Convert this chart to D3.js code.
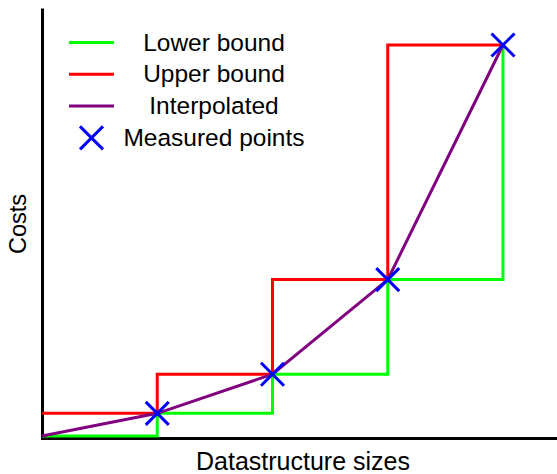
<!DOCTYPE html>
<html>
<head>
<meta charset="utf-8">
<script src="https://cdn.jsdelivr.net/npm/d3@7"></script>
<style>
  html, body { margin: 0; padding: 0; background: #fff; }
  svg { display: block; font-family: "Liberation Sans", Arial, Helvetica, sans-serif; }
</style>
</head>
<body>
<svg id="chart" width="557" height="474"></svg>
<script>
// Measured structure sizes (index) and their costs
const sizes = [0, 1, 2, 3, 4];
const costs = [0, 1.45, 3.95, 10, 25];
const measuredIdx = [1, 2, 3, 4];
const legendLabels = ["Lower bound", "Upper bound", "Interpolated", "Measured points"];
const xLabel = "Datastructure sizes";
const yLabel = "Costs";

const svg = d3.select("#chart");
const W = 557, H = 474;

const x = d3.scaleLinear().domain([0, 4]).range([42, 503]);
const y = d3.scaleLinear().domain([0, 25]).range([436, 45]);

const pts = sizes.map((s, i) => ({ s, c: costs[i] }));

// Axes: plain spines, no ticks
const xAxisScale = d3.scaleLinear().domain([0, 1]).range([40.5, W]);
const yAxisScale = d3.scaleLinear().domain([0, 1]).range([439.5, 8]);
svg.append("g")
  .attr("transform", "translate(0,438)")
  .call(d3.axisBottom(xAxisScale).tickValues([]).tickSizeOuter(0))
  .select(".domain").attr("stroke", "#000").attr("stroke-width", 3);
svg.append("g")
  .attr("transform", "translate(42,0)")
  .call(d3.axisLeft(yAxisScale).tickValues([]).tickSizeOuter(0))
  .select(".domain").attr("stroke", "#000").attr("stroke-width", 3);

const lower = d3.line().x(d => x(d.s)).y(d => y(d.c)).curve(d3.curveStepAfter);
const upper = d3.line().x(d => x(d.s)).y(d => y(d.c)).curve(d3.curveStepBefore);
const interp = d3.line().x(d => x(d.s)).y(d => y(d.c)).curve(d3.curveLinear);

// Upper bound starts at the first measured level
const upperPts = [{ s: sizes[0], c: costs[1] }].concat(pts.slice(1));

svg.append("path").attr("d", lower(pts))
  .attr("fill", "none").attr("stroke", "#00ff00").attr("stroke-width", 3);
svg.append("path").attr("d", upper(upperPts))
  .attr("fill", "none").attr("stroke", "#ff0000").attr("stroke-width", 3);
svg.append("path").attr("d", interp(pts))
  .attr("fill", "none").attr("stroke", "#800080").attr("stroke-width", 3);

// Measured points as crosses
const arm = 11.5;
const crossPath = `M${-arm},${-arm}L${arm},${arm}M${-arm},${arm}L${arm},${-arm}`;
svg.append("g").selectAll("path")
  .data(measuredIdx.map(i => pts[i]))
  .join("path")
  .attr("transform", d => `translate(${x(d.s)},${y(d.c)})`)
  .attr("d", crossPath)
  .attr("fill", "none").attr("stroke", "#0000ff").attr("stroke-width", 3);

// Legend
const legColors = ["#00ff00", "#ff0000", "#800080"];
const legY0 = 42.5, legDy = 31.8;
const leg = svg.append("g");
legColors.forEach((c, i) => {
  leg.append("line")
    .attr("x1", 69).attr("x2", 114)
    .attr("y1", legY0 + i * legDy).attr("y2", legY0 + i * legDy)
    .attr("stroke", c).attr("stroke-width", 3);
});
leg.append("path")
  .attr("transform", `translate(91.5,${legY0 + 3 * legDy})`)
  .attr("d", crossPath)
  .attr("fill", "none").attr("stroke", "#0000ff").attr("stroke-width", 3);
legendLabels.forEach((t, i) => {
  leg.append("text")
    .attr("x", 214).attr("y", legY0 + i * legDy + 8)
    .attr("text-anchor", "middle")
    .attr("font-size", 24.5)
    .attr("fill", "#000")
    .text(t);
});

// Axis titles
svg.append("text")
  .attr("x", 303).attr("y", 470)
  .attr("text-anchor", "middle")
  .attr("font-size", 25)
  .text(xLabel);
svg.append("text")
  .attr("transform", "translate(26,224) rotate(-90)")
  .attr("text-anchor", "middle")
  .attr("font-size", 23.5)
  .text(yLabel);
</script>
</body>
</html>
